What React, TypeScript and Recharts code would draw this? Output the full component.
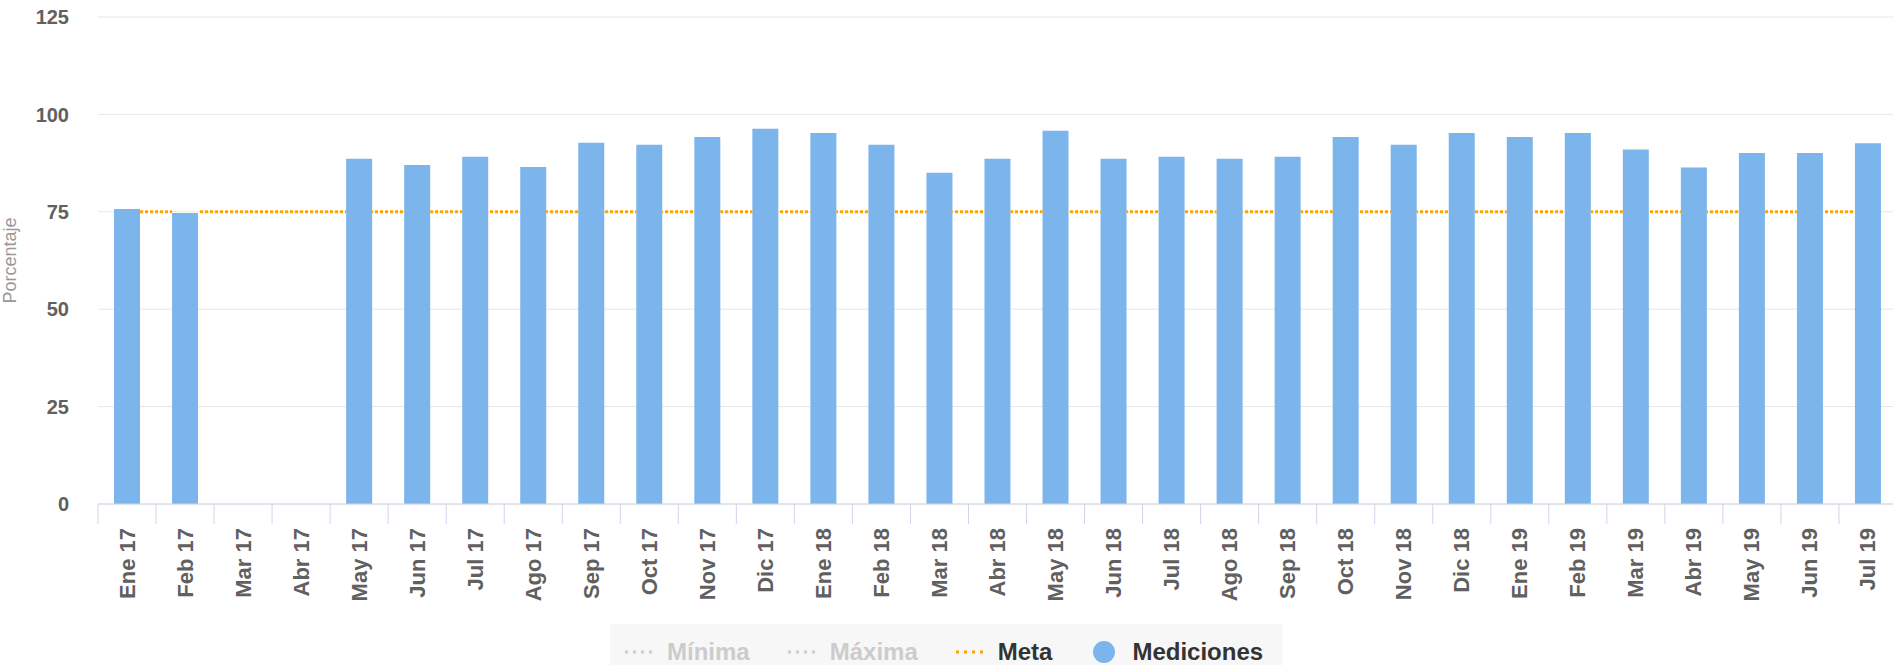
import React from "react";
import { ComposedChart, Bar, XAxis, YAxis, CartesianGrid, Legend } from "recharts";

const meses = [
  "Ene 17", "Feb 17", "Mar 17", "Abr 17", "May 17", "Jun 17", "Jul 17", "Ago 17",
  "Sep 17", "Oct 17", "Nov 17", "Dic 17", "Ene 18", "Feb 18", "Mar 18", "Abr 18",
  "May 18", "Jun 18", "Jul 18", "Ago 18", "Sep 18", "Oct 18", "Nov 18", "Dic 18",
  "Ene 19", "Feb 19", "Mar 19", "Abr 19", "May 19", "Jun 19", "Jul 19",
];

const mediciones: (number | null)[] = [
  75.7, 74.7, null, null, 88.6, 87.0, 89.1, 86.5,
  92.7, 92.2, 94.2, 96.3, 95.2, 92.2, 85.0, 88.6,
  95.8, 88.6, 89.1, 88.6, 89.1, 94.2, 92.2, 95.2,
  94.2, 95.2, 91.0, 86.4, 90.1, 90.1, 92.6,
];

const metaValores = [
  75, 75, 75, 75, 75, 75, 75, 75,
  75, 75, 75, 75, 75, 75, 75, 75,
  75, 75, 75, 75, 75, 75, 75, 75,
  75, 75, 75, 75, 75, 75, 75,
];

const yTicks = [0, 25, 50, 75, 100, 125];

const leyenda = [
  { name: "Mínima", color: "#cccccc", tipo: "linea", activo: false },
  { name: "Máxima", color: "#cccccc", tipo: "linea", activo: false },
  { name: "Meta", color: "#ffa500", tipo: "linea", activo: true },
  { name: "Mediciones", color: "#7cb5ec", tipo: "circulo", activo: true },
];

const data = meses.map((mes, i) => ({
  mes,
  mediciones: mediciones[i],
  meta: metaValores[i],
}));

const W = 1893;
const H = 665;
const LEFT = 98;
const RIGHT = -4;
const BAR = 26;
const BAND = (W - LEFT - RIGHT) / meses.length;
const FONT = "'Liberation Sans', Arial, sans-serif";

const XTick = (props: any) => {
  const { x, y, payload } = props;
  const half = BAND / 2;
  const last = payload.value === meses[meses.length - 1];
  return (
    <g>
      <line x1={x - half} x2={x - half} y1={y} y2={y + 20} stroke="#ccd6eb" />
      {last && <line x1={x + half} x2={x + half} y1={y} y2={y + 20} stroke="#ccd6eb" />}
      <text
        x={x}
        y={y + 24}
        transform={`rotate(-90 ${x} ${y + 24})`}
        textAnchor="end"
        dominantBaseline="central"
        fill="#606060"
        fontSize={22}
        fontWeight="bold"
        fontFamily={FONT}
      >
        {payload.value}
      </text>
    </g>
  );
};

// la meta va de centro a centro, pero solo se pinta en los huecos entre barras
// (queda "detras" de las mediciones)
const MetaTramo = (props: any) => {
  const { x, y, width, payload } = props;
  const i = meses.indexOf(payload.mes);
  if (i < 0 || i === meses.length - 1) return <g />;
  const cx = x + width / 2;
  const x1 = mediciones[i] == null ? cx : cx + BAR / 2;
  const x2 = mediciones[i + 1] == null ? cx + BAND : cx + BAND - BAR / 2;
  return (
    <line
      x1={x1}
      x2={x2}
      y1={y}
      y2={y}
      stroke="#ffa500"
      strokeWidth={3}
      strokeDasharray="3 2"
      strokeDashoffset={x1 % 5}
    />
  );
};

const YTitle = (props: any) => {
  const vb = props.viewBox || { y: 17, height: 487 };
  const cy = vb.y + vb.height / 2;
  return (
    <text
      x={10}
      y={cy}
      transform={`rotate(-90 10 ${cy})`}
      textAnchor="middle"
      dominantBaseline="central"
      fill="#999999"
      fontSize={18}
      fontFamily={FONT}
    >
      Porcentaje
    </text>
  );
};

const LegendBox = () => (
  <div
    style={{
      width: 673,
      height: 41,
      margin: "0 auto",
      boxSizing: "border-box",
      paddingTop: 14,
      paddingLeft: 15,
      background: "#f7f7f7",
      display: "flex",
      alignItems: "center",
      fontFamily: FONT,
      fontWeight: "bold",
      fontSize: 24,
      lineHeight: "25px",
      overflow: "hidden",
    }}
  >
    {leyenda.map((item, i) => (
      <div
        key={item.name}
        style={{ display: "flex", alignItems: "center", marginLeft: i === 0 ? 0 : 38, height: 25 }}
      >
        <svg width={28} height={24} style={{ marginRight: 14 }}>
          {item.tipo === "linea" ? (
            <line x1={0} x2={28} y1={12} y2={12} stroke={item.color} strokeWidth={3} strokeDasharray="3 5" />
          ) : (
            <circle cx={14} cy={12} r={11} fill={item.color} />
          )}
        </svg>
        <span style={{ color: item.activo ? "#333333" : "#cccccc" }}>{item.name}</span>
      </div>
    ))}
  </div>
);

export default function App() {
  return (
    <div style={{ position: "absolute", left: 0, top: 0, width: W, height: H, background: "#fff", overflow: "hidden" }}>
      <ComposedChart
        width={W}
        height={H}
        data={data}
        margin={{ top: 17, right: RIGHT, bottom: 0, left: 0 }}
      >
        <CartesianGrid vertical={false} stroke="#e6e6e6" />
        <XAxis
          dataKey="mes"
          interval={0}
          height={120}
          tickSize={0}
          tickMargin={0}
          tickLine={false}
          axisLine={{ stroke: "#ccd6eb" }}
          tick={<XTick />}
        />
        <XAxis xAxisId="meta" dataKey="mes" hide />
        <YAxis
          width={LEFT}
          domain={[0, 125]}
          ticks={yTicks}
          axisLine={false}
          tickLine={false}
          tickSize={0}
          tickMargin={29}
          tick={{ fill: "#606060", fontSize: 20, fontWeight: "bold", fontFamily: FONT }}
          label={<YTitle />}
        />
        <Legend verticalAlign="bottom" content={() => <LegendBox />} wrapperStyle={{ left: 0, width: W, bottom: 0 }} />
        <Bar dataKey="mediciones" fill="#7cb5ec" barSize={BAR} isAnimationActive={false} />
        <Bar
          dataKey="meta"
          xAxisId="meta"
          barSize={2}
          shape={<MetaTramo />}
          isAnimationActive={false}
        />
      </ComposedChart>
    </div>
  );
}
